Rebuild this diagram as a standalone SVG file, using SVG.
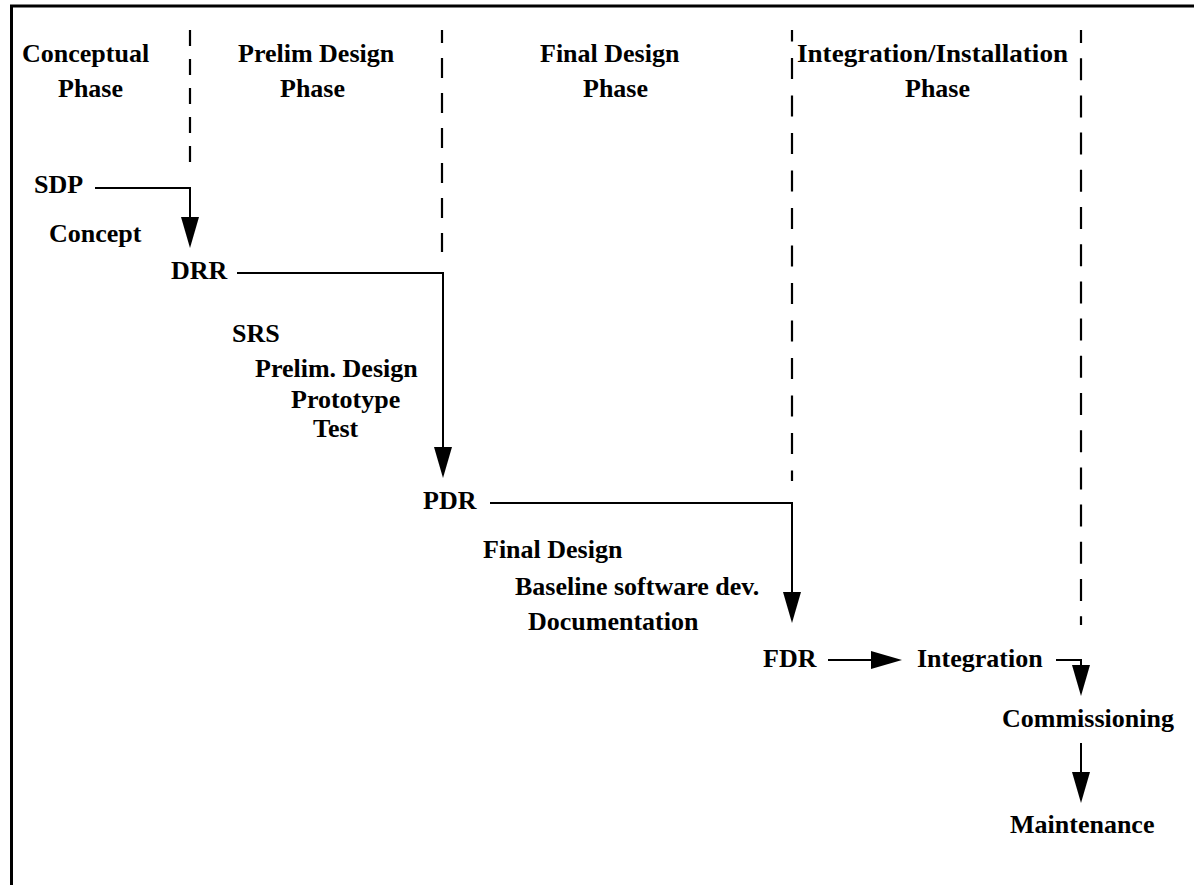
<svg xmlns="http://www.w3.org/2000/svg" width="1194" height="885" viewBox="0 0 1194 885">
<style>
text{font-family:'Liberation Serif','Times New Roman',serif;font-weight:bold;font-size:26px;fill:#000}
.dash{stroke:#000;stroke-width:2.2;fill:none}
.conn{stroke:#000;stroke-width:2;fill:none}
</style>
<defs>
<marker id="ah" markerUnits="userSpaceOnUse" markerWidth="32" markerHeight="19" refX="21" refY="9" orient="auto" overflow="visible">
<path d="M0,0 L31,9 L0,18 z" fill="#000"/>
</marker>
</defs>
<rect width="1194" height="885" fill="#fff"/>
<g id="frame">
<path d="M11.5,885 V6 H1194" stroke="#000" stroke-width="3" fill="none"/>
</g>
<g id="phase-dividers">
<line class="dash" x1="190" y1="30" x2="190" y2="165" stroke-dasharray="16 13"/>
<line class="dash" x1="442" y1="30" x2="442" y2="252" stroke-dasharray="20 15" stroke-dashoffset="7"/>
<line class="dash" x1="792" y1="30" x2="792" y2="481" stroke-dasharray="21 16.5" stroke-dashoffset="9.5"/>
<line class="dash" x1="1081" y1="30" x2="1081" y2="625" stroke-dasharray="22 15.2" stroke-dashoffset="9"/>
</g>
<g font-family="Liberation Serif, Times New Roman, serif" font-weight="bold" font-size="26">
<g id="headers">
<g id="h-conceptual"><text x="22" y="62">Conceptual</text><text x="58" y="97">Phase</text></g>
<g id="h-prelim"><text x="238" y="62">Prelim Design</text><text x="280" y="97">Phase</text></g>
<g id="h-final"><text x="540" y="62">Final Design</text><text x="583" y="97">Phase</text></g>
<g id="h-integration"><text x="797" y="62" textLength="271" lengthAdjust="spacingAndGlyphs">Integration/Installation</text><text x="905" y="97">Phase</text></g>
</g>
<g id="sdp"><text x="34" y="193">SDP</text></g>
<g id="concept"><text x="49" y="242">Concept</text></g>
<g id="drr"><text x="171" y="279">DRR</text></g>
<g id="prelim-tasks">
<text x="232" y="342">SRS</text>
<text x="255" y="377">Prelim. Design</text>
<text x="291" y="408">Prototype</text>
<text x="313" y="437">Test</text>
</g>
<g id="pdr"><text x="423" y="509">PDR</text></g>
<g id="final-tasks">
<text x="483" y="558">Final Design</text>
<text x="515" y="595">Baseline software dev.</text>
<text x="528" y="630">Documentation</text>
</g>
<g id="fdr"><text x="763" y="667">FDR</text></g>
<g id="integration"><text x="917" y="667">Integration</text></g>
<g id="commissioning"><text x="1002" y="727">Commissioning</text></g>
<g id="maintenance"><text x="1010" y="833">Maintenance</text></g>
</g>
<g id="connectors">
<path class="conn" d="M95,188 H190 V238" marker-end="url(#ah)"/>
<path class="conn" d="M237,273 H443 V468" marker-end="url(#ah)"/>
<path class="conn" d="M490,503 H792 V613" marker-end="url(#ah)"/>
<path class="conn" d="M828,660 H892" marker-end="url(#ah)"/>
<path class="conn" d="M1056,660 H1081 V686" marker-end="url(#ah)"/>
<path class="conn" d="M1081,743 V793" marker-end="url(#ah)"/>
</g>
</svg>
